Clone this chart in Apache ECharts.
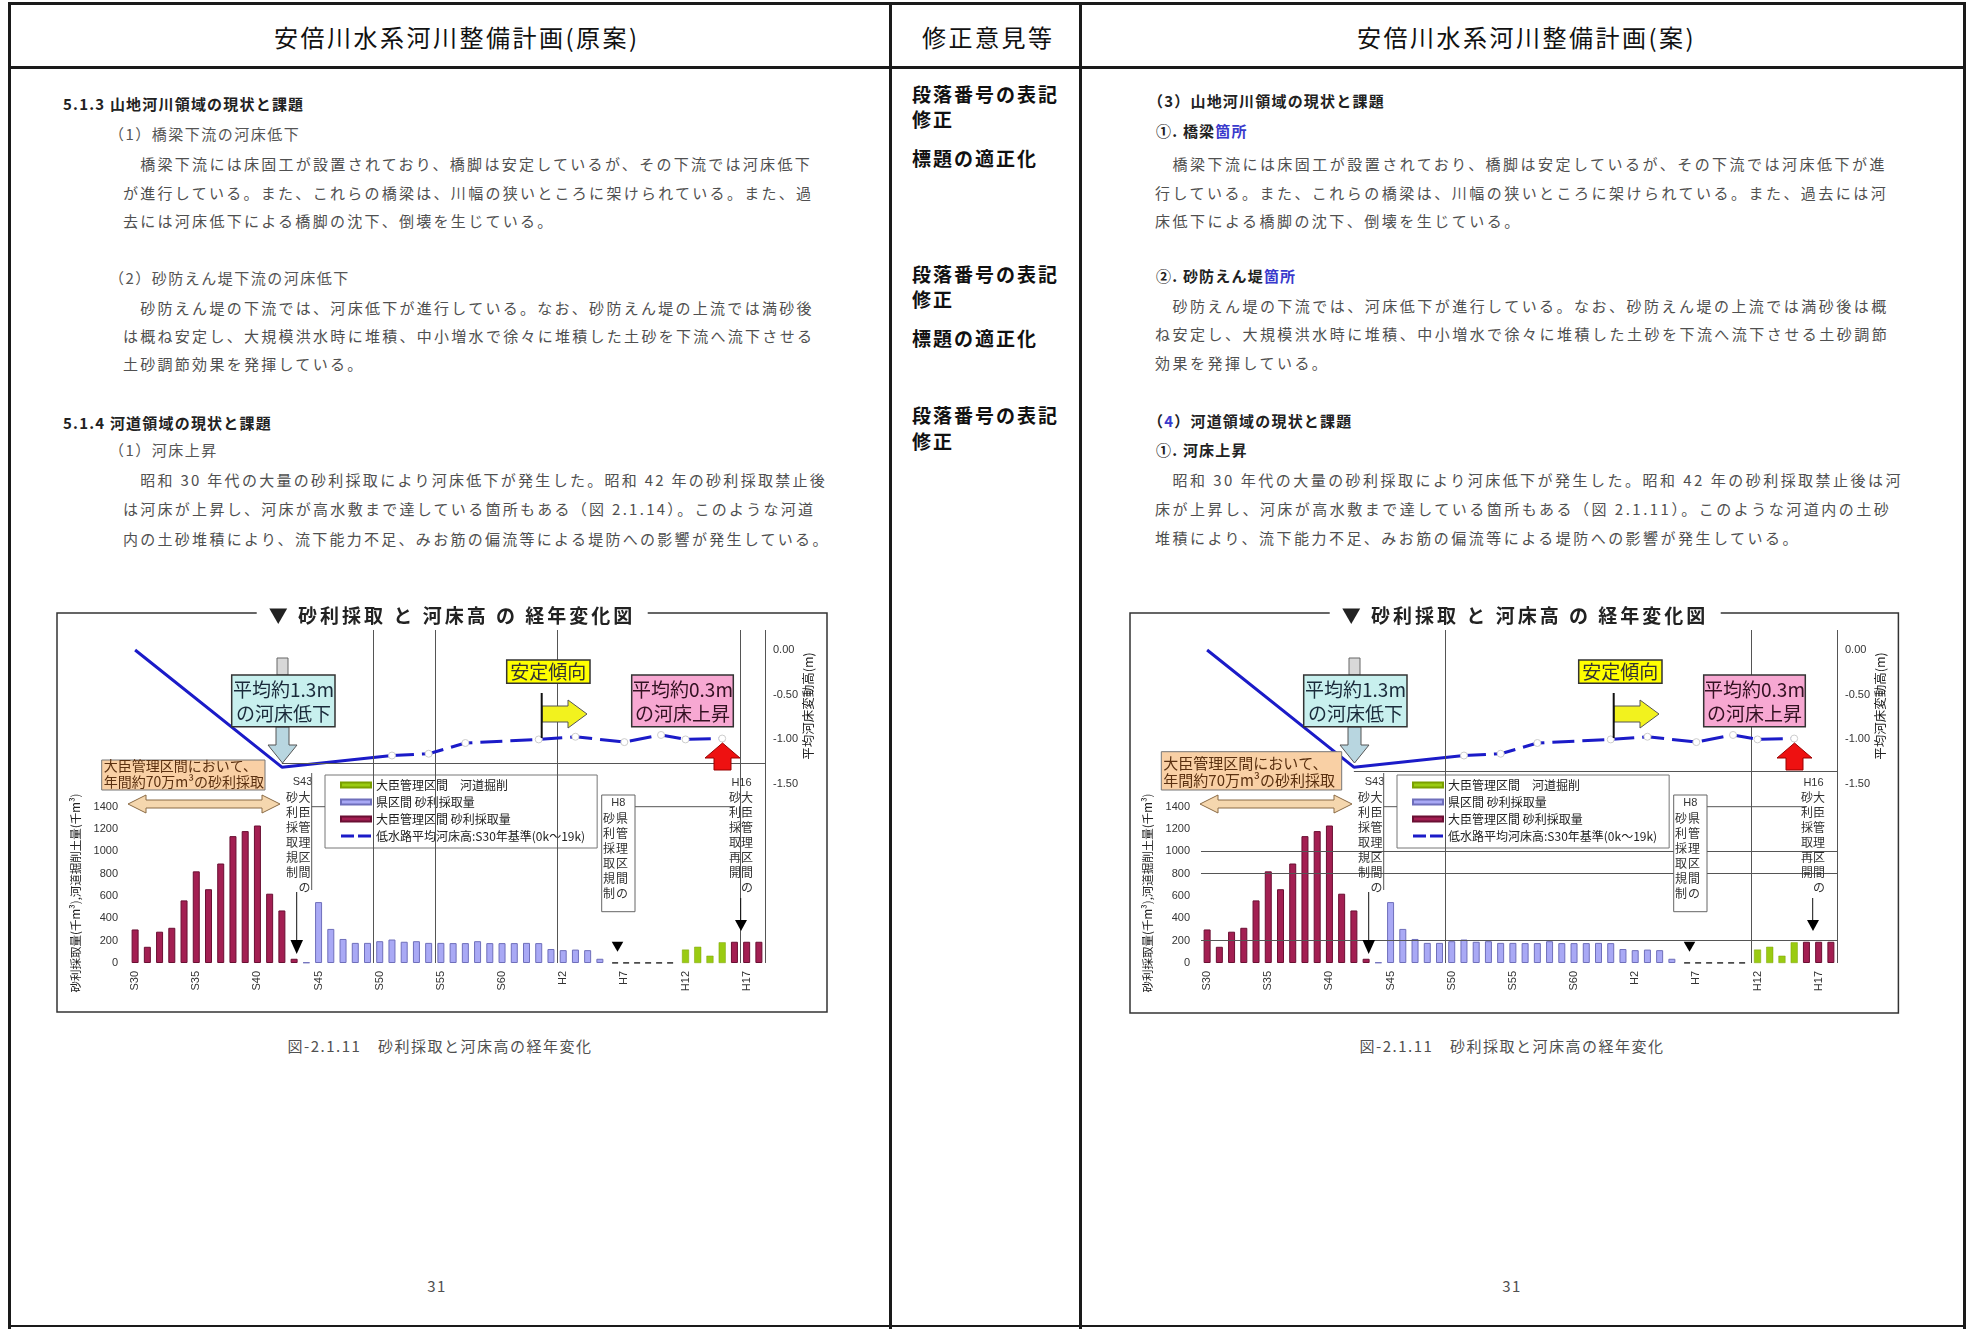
<!DOCTYPE html>
<html><head><meta charset="utf-8">
<script src="https://cdn.jsdelivr.net/npm/echarts@6/dist/echarts.min.js"></script>
<style>
html,body{margin:0;padding:0;background:#fff;}
body{width:1971px;height:1329px;position:relative;overflow:hidden;font-family:"Noto Sans CJK JP","Noto Sans",sans-serif;}
.ln{position:absolute;background:#1a1a1a;}
.t{position:absolute;white-space:nowrap;line-height:1;transform:translateY(-50%);}
.hd{font-size:24px;letter-spacing:2.5px;color:#111;}
.mid{font-size:19px;font-weight:700;letter-spacing:2px;color:#111;}
.h1{font-size:15px;font-weight:700;color:#222;letter-spacing:1.2px;}
.h2{font-size:15px;color:#555;letter-spacing:1.5px;}
.pL{font-size:15px;color:#505050;letter-spacing:2.28px;}
.pR{font-size:15px;color:#505050;letter-spacing:2.48px;}
.cap{font-size:15px;color:#505050;letter-spacing:1.5px;transform:translate(-50%,-50%);}
.blue{color:#3a3acc;}
.chart{position:absolute;width:790px;height:420px;}
.ttl{position:absolute;z-index:5;background:#fff;padding:0 12px;font-size:19px;font-weight:700;letter-spacing:3px;line-height:24px;color:#222;white-space:pre;transform:translate(-50%,-50%);}
</style></head>
<body>
<!-- table lines -->
<div class="ln" style="left:8px;top:2px;width:1958px;height:3px"></div>
<div class="ln" style="left:8px;top:66px;width:1958px;height:3px"></div>
<div class="ln" style="left:8px;top:2px;width:3px;height:1327px"></div>
<div class="ln" style="left:1963px;top:2px;width:3px;height:1327px"></div>
<div class="ln" style="left:889px;top:2px;width:3px;height:1327px"></div>
<div class="ln" style="left:1079px;top:2px;width:3px;height:1327px"></div>
<div class="ln" style="left:8px;top:1325px;width:1958px;height:2px"></div>

<div class="t hd" style="left:274px;top:37px">安倍川水系河川整備計画(原案)</div>
<div class="t hd" style="left:922px;top:37px">修正意見等</div>
<div class="t hd" style="left:1357px;top:37px">安倍川水系河川整備計画(案)</div>

<!-- left column -->
<div class="t h1" style="left:63px;top:103px">5.1.3 山地河川領域の現状と課題</div>
<div class="t h2" style="left:109px;top:133px">（1）橋梁下流の河床低下</div>
<div class="t pL" style="left:123px;top:163px">　橋梁下流には床固工が設置されており、橋脚は安定しているが、その下流では河床低下</div>
<div class="t pL" style="left:123px;top:192px">が進行している。また、これらの橋梁は、川幅の狭いところに架けられている。また、過</div>
<div class="t pL" style="left:123px;top:220px">去には河床低下による橋脚の沈下、倒壊を生じている。</div>
<div class="t h2" style="left:109px;top:277px">（2）砂防えん堤下流の河床低下</div>
<div class="t pL" style="left:123px;top:307px">　砂防えん堤の下流では、河床低下が進行している。なお、砂防えん堤の上流では満砂後</div>
<div class="t pL" style="left:123px;top:335px">は概ね安定し、大規模洪水時に堆積、中小増水で徐々に堆積した土砂を下流へ流下させる</div>
<div class="t pL" style="left:123px;top:363px">土砂調節効果を発揮している。</div>
<div class="t h1" style="left:63px;top:422px">5.1.4 河道領域の現状と課題</div>
<div class="t h2" style="left:109px;top:449px">（1）河床上昇</div>
<div class="t pL" style="left:123px;top:479px">　昭和 30 年代の大量の砂利採取により河床低下が発生した。昭和 42 年の砂利採取禁止後</div>
<div class="t pL" style="left:123px;top:508px">は河床が上昇し、河床が高水敷まで達している箇所もある（図 2.1.14）。このような河道</div>
<div class="t pL" style="left:123px;top:538px">内の土砂堆積により、流下能力不足、みお筋の偏流等による堤防への影響が発生している。</div>

<!-- middle column -->
<div class="t mid" style="left:912px;top:93px">段落番号の表記</div>
<div class="t mid" style="left:912px;top:118px">修正</div>
<div class="t mid" style="left:912px;top:157px">標題の適正化</div>
<div class="t mid" style="left:912px;top:273px">段落番号の表記</div>
<div class="t mid" style="left:912px;top:298px">修正</div>
<div class="t mid" style="left:912px;top:337px">標題の適正化</div>
<div class="t mid" style="left:912px;top:414px">段落番号の表記</div>
<div class="t mid" style="left:912px;top:440px">修正</div>

<!-- right column -->
<div class="t h1" style="left:1148px;top:100px">（3）山地河川領域の現状と課題</div>
<div class="t h1" style="left:1156px;top:130px">①. 橋梁<span class="blue">箇所</span></div>
<div class="t pR" style="left:1155px;top:163px">　橋梁下流には床固工が設置されており、橋脚は安定しているが、その下流では河床低下が進</div>
<div class="t pR" style="left:1155px;top:192px">行している。また、これらの橋梁は、川幅の狭いところに架けられている。また、過去には河</div>
<div class="t pR" style="left:1155px;top:220px">床低下による橋脚の沈下、倒壊を生じている。</div>
<div class="t h1" style="left:1156px;top:275px">②. 砂防えん堤<span class="blue">箇所</span></div>
<div class="t pR" style="left:1155px;top:305px">　砂防えん堤の下流では、河床低下が進行している。なお、砂防えん堤の上流では満砂後は概</div>
<div class="t pR" style="left:1155px;top:333px">ね安定し、大規模洪水時に堆積、中小増水で徐々に堆積した土砂を下流へ流下させる土砂調節</div>
<div class="t pR" style="left:1155px;top:362px">効果を発揮している。</div>
<div class="t h1" style="left:1148px;top:420px">（<span class="blue">4</span>）河道領域の現状と課題</div>
<div class="t h1" style="left:1156px;top:449px">①. 河床上昇</div>
<div class="t pR" style="left:1155px;top:479px">　昭和 30 年代の大量の砂利採取により河床低下が発生した。昭和 42 年の砂利採取禁止後は河</div>
<div class="t pR" style="left:1155px;top:508px">床が上昇し、河床が高水敷まで達している箇所もある（図 2.1.11）。このような河道内の土砂</div>
<div class="t pR" style="left:1155px;top:537px">堆積により、流下能力不足、みお筋の偏流等による堤防への影響が発生している。</div>

<!-- charts -->
<div id="chartL" class="chart" style="left:50px;top:600px"></div>
<div id="chartR" class="chart" style="left:1122px;top:600px"></div>
<div class="ttl" style="left:452px;top:615px">▼ 砂利採取 と 河床高 の 経年変化図</div>
<div class="ttl" style="left:1525px;top:615px">▼ 砂利採取 と 河床高 の 経年変化図</div>

<div class="t cap" style="left:440px;top:1045px">図-2.1.11　砂利採取と河床高の経年変化</div>
<div class="t cap" style="left:1512px;top:1045px">図-2.1.11　砂利採取と河床高の経年変化</div>
<div class="t cap" style="left:437px;top:1285px">31</div>
<div class="t cap" style="left:1512px;top:1285px">31</div>

<script>
// ---- data ----
const categories = ['S30','S31','S32','S33','S34','S35','S36','S37','S38','S39','S40','S41','S42','S43','S44',
  'S45','S46','S47','S48','S49','S50','S51','S52','S53','S54','S55','S56','S57','S58','S59','S60','S61','S62','S63',
  'H1','H2','H3','H4','H5','H6','H7','H8','H9','H10','H11','H12','H13','H14','H15','H16','H17','H18'];
// 大臣管理区間 砂利採取量 (千m3)
const daijinCats = ['S30','S31','S32','S33','S34','S35','S36','S37','S38','S39','S40','S41','S42','S43','H16','H17','H18'];
const daijinVals = [300,145,280,315,560,820,660,890,1135,1180,1230,620,470,38,190,190,190];
// 県区間 砂利採取量 (千m3)
const kenCats = ['S44','S45','S46','S47','S48','S49','S50','S51','S52','S53','S54','S55','S56','S57','S58','S59',
  'S60','S61','S62','S63','H1','H2','H3','H4','H5'];
const kenVals = [5,545,305,215,180,180,195,210,190,195,180,180,178,178,195,178,178,178,180,178,125,115,120,115,38];
// 大臣管理区間 河道掘削 (千m3)
const kasenCats = ['H12','H13','H14','H15'];
const kasenVals = [120,145,65,185];
// 採取なし (0)
const noTakeCats = ['H6','H7','H8','H9','H10','H11'];
const noTakeVals = [0,0,0,0,0,0];
// 低水路平均河床高 S30年基準 (m)
const bedCats = ['S30','S42','S51','S54','S57','S63','H3','H7','H10','H12','H15'];
const bedVals = [0.00,-1.31,-1.18,-1.16,-1.04,-1.00,-0.97,-1.03,-0.95,-1.00,-0.99];
// axis tick values
const leftTicks = [0,200,400,600,800,1000,1200,1400];
const rightTicks = [0,-0.5,-1.0,-1.5];

function zip(c, v){ return c.map((k,i)=>[k, v[i]]); }

const FONT = '"Noto Sans CJK JP", sans-serif';
const BLUE = '#1b1bc8';

function vtext(x, y, s, size){
  return {type:'text', z:12, x:x, y:y, style:{text:s.split('').join('\n'), font:size+'px '+FONT, fill:'#333', align:'center', verticalAlign:'top', lineHeight:15}};
}

function graphics(V){
  const g = [];
  // frame
  g.push({type:'rect', z:1, shape:{x:V.frame[0], y:V.frame[1], width:V.frame[2], height:V.frame[3]}, style:{fill:null, stroke:'#333', lineWidth:1.5}});
  // axis names
  g.push({type:'text', z:12, x:26, y:293, rotation:Math.PI/2, style:{text:'砂利採取量(千m³),河道掘削土量(千m³)', font:'11.5px '+FONT, fill:'#222', align:'center', verticalAlign:'middle'}});
  g.push({type:'text', z:12, x:758, y:106, rotation:Math.PI/2, style:{text:'平均河床変動高(m)', font:'12.5px '+FONT, fill:'#222', align:'center', verticalAlign:'middle'}});
  // cyan box + arrows
  g.push({type:'rect', z:10, shape:{x:227, y:58, width:11, height:17}, style:{fill:'#d8d8d8', stroke:'#666', lineWidth:1}});
  g.push({type:'polygon', z:10, shape:{points:[[226,127],[239,127],[239,145],[247,145],[232.5,163],[218,145],[226,145]]}, style:{fill:'#b8d6e0', stroke:'#555', lineWidth:1}});
  g.push({type:'rect', z:10, shape:{x:181.7, y:75, width:103.3, height:51.7}, style:{fill:'#c8f0ee', stroke:'#333', lineWidth:1.5}});
  g.push({type:'text', z:11, x:233.5, y:90, style:{text:'平均約1.3m', font:'19px '+FONT, fill:'#1a2a3a', align:'center', verticalAlign:'middle'}});
  g.push({type:'text', z:11, x:233.5, y:114, style:{text:'の河床低下', font:'19px '+FONT, fill:'#1a2a3a', align:'center', verticalAlign:'middle'}});
  // orange box
  const o = V.orange;
  g.push({type:'rect', z:10, shape:{x:o.x, y:o.y, width:o.w, height:o.h}, style:{fill:'#f9d0a5', stroke:'#777', lineWidth:1}});
  g.push({type:'text', z:11, x:o.x+2, y:o.t1, style:{text:'大臣管理区間において、', font:o.fs+'px '+FONT, fill:'#5a3010', align:'left', verticalAlign:'middle'}});
  g.push({type:'text', z:11, x:o.x+2, y:o.t2, style:{text:'年間約70万m³の砂利採取', font:o.fs+'px '+FONT, fill:'#5a3010', align:'left', verticalAlign:'middle'}});
  // double arrow
  g.push({type:'polygon', z:10, shape:{points:[[78,204],[96,195],[96,200],[212,200],[212,195],[230,204],[212,213],[212,208],[96,208],[96,213]]}, style:{fill:'#f5d7ae', stroke:'#8a6a45', lineWidth:1}});
  // S43 annotation
  g.push({type:'text', z:12, x:252.5, y:182, style:{text:'S43', font:'11px Arial', fill:'#333', align:'center', verticalAlign:'middle'}});
  g.push(vtext(242, 190, '砂利採取規制', 12));
  g.push(vtext(254.5, 190, '大臣管理区間の', 12));
  g.push({type:'line', z:12, shape:{x1:261.7, y1:173, x2:261.7, y2:290}, style:{stroke:'#555', lineWidth:1}});
  g.push({type:'line', z:12, shape:{x1:261.7, y1:206.7, x2:275, y2:206.7}, style:{stroke:'#555', lineWidth:1}});
  g.push({type:'line', z:12, shape:{x1:246.7, y1:292, x2:246.7, y2:342}, style:{stroke:'#111', lineWidth:1}});
  g.push({type:'polygon', z:12, shape:{points:[[240.5,340],[253,340],[246.7,354]]}, style:{fill:'#000'}});
  // 安定傾向
  g.push({type:'rect', z:10, shape:{x:456.7, y:60, width:83.3, height:23.3}, style:{fill:'#ffff00', stroke:'#333', lineWidth:1.5}});
  g.push({type:'text', z:11, x:498.3, y:71.7, style:{text:'安定傾向', font:'19px '+FONT, fill:'#333', align:'center', verticalAlign:'middle'}});
  g.push({type:'line', z:11, shape:{x1:491.7, y1:93, x2:491.7, y2:138}, style:{stroke:'#111', lineWidth:2}});
  g.push({type:'polygon', z:10, shape:{points:[[492,106],[518,106],[518,100],[537,114],[518,128],[518,122],[492,122]]}, style:{fill:'#f2f21e', stroke:'#555', lineWidth:1}});
  // pink box
  g.push({type:'rect', z:10, shape:{x:581.7, y:75, width:101.6, height:51.7}, style:{fill:'#f7a8d2', stroke:'#333', lineWidth:1.5}});
  g.push({type:'text', z:11, x:632.5, y:90, style:{text:'平均約0.3m', font:'19px '+FONT, fill:'#331122', align:'center', verticalAlign:'middle'}});
  g.push({type:'text', z:11, x:632.5, y:114, style:{text:'の河床上昇', font:'19px '+FONT, fill:'#331122', align:'center', verticalAlign:'middle'}});
  g.push({type:'polygon', z:10, shape:{points:[[672.5,143],[690,158],[681,158],[681,170],[664,170],[664,158],[655,158]]}, style:{fill:'#ee1111', stroke:'#990000', lineWidth:1}});
  // H8 box
  g.push({type:'rect', z:10, shape:{x:551.7, y:195, width:33.3, height:116.7}, style:{fill:'#fff', stroke:'#666', lineWidth:1}});
  g.push({type:'text', z:12, x:568.3, y:203, style:{text:'H8', font:'11px Arial', fill:'#333', align:'center', verticalAlign:'middle'}});
  g.push(vtext(559, 211, '砂利採取規制', 12));
  g.push(vtext(572, 211, '県管理区間の', 12));
  g.push({type:'line', z:9, shape:{x1:585, y1:206.7, x2:684, y2:206.7}, style:{stroke:'#555', lineWidth:1}});
  g.push({type:'polygon', z:12, shape:{points:[[561.7,341.7],[573.3,341.7],[567.5,351.7]]}, style:{fill:'#000'}});
  // H16
  g.push({type:'text', z:12, x:691.5, y:182.7, style:{text:'H16', font:'11px Arial', fill:'#333', align:'center', verticalAlign:'middle'}});
  g.push(vtext(685, 190, '砂利採取再開', 12));
  g.push(vtext(697, 190, '大臣管理区間の', 12));
  g.push({type:'line', z:12, shape:{x1:690.7, y1:298, x2:690.7, y2:322}, style:{stroke:'#111', lineWidth:1}});
  g.push({type:'polygon', z:12, shape:{points:[[685,320],[697,320],[691,331]]}, style:{fill:'#000'}});
  return g;
}

function buildOption(V){
  const lineCfg = {symbol:'none', silent:true, animation:false, label:{show:false}, lineStyle:{color:'#555', width:1, type:'solid'}};
  return {
    animation:false,
    grid:{left:79, right:75, top:30, bottom:57},
    legend:{
      orient:'vertical', left:275, top:175, selectedMode:false,
      itemWidth:30, itemHeight:5, itemGap:5, padding:[4,12,6,15],
      borderColor:'#777', borderWidth:1, backgroundColor:'rgba(255,255,255,0)',
      textStyle:{fontSize:12, color:'#222', fontFamily:FONT},
      data:[
        {name:'大臣管理区間　河道掘削', icon:'rect'},
        {name:'県区間 砂利採取量', icon:'rect'},
        {name:'大臣管理区間 砂利採取量', icon:'rect'},
        {name:'低水路平均河床高:S30年基準(0k～19k)', icon:'path://M0,0h13v3h-13z M17,0h13v3h-13z', itemStyle:{color:BLUE, borderWidth:0}}
      ]
    },
    xAxis:[
      {type:'category', data:categories, boundaryGap:true, axisLine:{show:false}, axisTick:{show:false},
       axisLabel:{interval:4, rotate:90, margin:8, fontSize:11, fontFamily:'Arial', color:'#333'}},
      {type:'value', min:-0.5, max:51.5, show:false}
    ],
    yAxis:[
      {type:'value', min:0, max:2979, interval:200, splitLine:{show:false}, axisLine:{show:false}, axisTick:{show:false},
       axisLabel:{margin:11, fontSize:11, fontFamily:'Arial', color:'#333', showMaxLabel:false,
         formatter:(v)=> leftTicks.indexOf(v) >= 0 ? String(v) : ''}},
      {type:'value', min:-3.5, max:0.2237, interval:0.5, position:'right', splitLine:{show:false}, axisLine:{show:false}, axisTick:{show:false},
       axisLabel:{margin:8, fontSize:11, fontFamily:'Arial', color:'#333', showMaxLabel:false,
         formatter:(v)=> rightTicks.some(t=>Math.abs(t-v)<1e-9) ? v.toFixed(2) : ''}}
    ],
    series:[
      {name:'guide-v', type:'line', xAxisIndex:1, yAxisIndex:1, data:[], silent:true,
       markLine:Object.assign({}, lineCfg, {data: V.vlines.map(x=>({xAxis:x})).concat([[{coord:[12, V.hline]},{coord:[51.5, V.hline]}]])})},
      {name:'guide-h', type:'line', xAxisIndex:1, yAxisIndex:0, data:[], silent:true,
       markLine:Object.assign({}, lineCfg, {data: V.hlines.map(y=>({yAxis:y}))})},
      {name:'大臣管理区間　河道掘削', type:'bar', data:zip(kasenCats, kasenVals), barWidth:7, barGap:'-100%', z:3,
       itemStyle:{color:'#9acb12', borderColor:'#7aa000', borderWidth:0.5}},
      {name:'県区間 砂利採取量', type:'bar', data:zip(kenCats, kenVals), barWidth:7, barGap:'-100%', z:3,
       itemStyle:{color:'#a9a9f5', borderColor:'#6f6fbb', borderWidth:1}},
      {name:'大臣管理区間 砂利採取量', type:'bar', data:zip(daijinCats, daijinVals), barWidth:7, barGap:'-100%', z:3,
       itemStyle:{color:'#a31f52', borderColor:'#6a0f33', borderWidth:1}},
      {name:'zero', type:'line', data:zip(noTakeCats, noTakeVals), symbol:'none', z:3,
       lineStyle:{color:'#111', width:1.5, type:[6,5]}},
      {name:'bed-solid', type:'line', yAxisIndex:1, data:zip(bedCats.slice(0,3), bedVals.slice(0,3)), symbol:'none', z:4,
       lineStyle:{color:BLUE, width:3}},
      {name:'低水路平均河床高:S30年基準(0k～19k)', type:'line', yAxisIndex:1, data:zip(bedCats.slice(2), bedVals.slice(2)), z:5,
       symbol:'circle', symbolSize:7, showSymbol:true, color:BLUE,
       itemStyle:{color:'#ffffff', borderColor:'#cccccc', borderWidth:1},
       lineStyle:{color:BLUE, width:3, type:[22,8]}}
    ],
    graphic:{elements: graphics(V)}
  };
}

const VL = {frame:[7,13,770,399], vlines:[19.5,24.5,34.5,49.5,51.5], hlines:[], hline:-1.264,
  orange:{x:51.7, y:160, w:163.3, h:30, t1:166, t2:182, fs:14}};
const VR = {frame:[8,13,768.4,400], vlines:[19.5,44.5,51.5], hlines:[200,800,1000], hline:-1.36,
  orange:{x:39.3, y:151.7, w:180.4, h:38.3, t1:163, t2:180, fs:15}};

echarts.init(document.getElementById('chartL'), null, {renderer:'canvas'}).setOption(buildOption(VL));
echarts.init(document.getElementById('chartR'), null, {renderer:'canvas'}).setOption(buildOption(VR));
</script>
</body></html>
